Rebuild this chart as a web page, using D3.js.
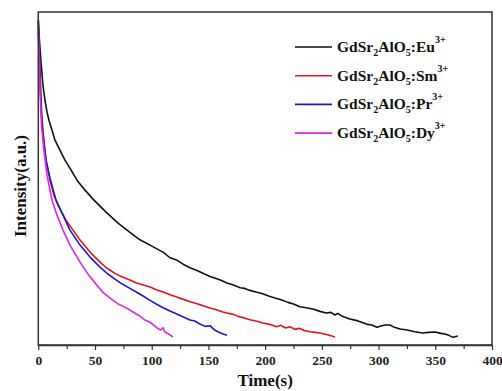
<!DOCTYPE html>
<html><head><meta charset="utf-8">
<script src="https://cdn.jsdelivr.net/npm/d3@7"></script>
<style>html,body{margin:0;padding:0;background:#fff;}svg{display:block;}
svg text{font-family:"Liberation Serif","Times New Roman","DejaVu Serif",serif;font-weight:bold;}</style>
</head><body>
<svg id="c" width="502" height="391"></svg>
<script>
// Data: [time (s), intensity (a.u.)]
const seriesNames = ["Eu", "Sm", "Pr", "Dy"];
const xTicks = [0, 50, 100, 150, 200, 250, 300, 350, 400];
const euData = [[0,975],[1,915],[2.4,849],[4.1,780],[5.9,735],[7.7,699],[9.4,675],[12.1,645],[14.7,615],[19.1,585],[23.5,555],[27.9,531],[34.1,495],[41.2,465],[49.1,435],[58.8,402],[70.3,366],[80.8,338],[89.6,316],[98.5,300],[105,288],[110,279],[116.1,262],[122,255],[128,242],[133.7,232],[140,224],[146,214],[151.4,206],[158,198],[162,193],[166.3,186],[172,180],[178,172],[182,170],[186.6,164],[192,159],[198,154],[203,147],[208.6,141],[214,136],[220,128],[225,123],[230.7,115],[236,112],[242,108],[248.3,101],[254,96],[258,98],[261.5,90],[264,95],[268,86],[274.7,78],[280,74],[285,68],[290,62],[294,60],[298.6,53],[302,57],[306,60],[310,60],[314,53],[319,48],[325,45],[332,40],[339,36],[344,38],[349.6,39],[355,35],[358.4,33],[362,29],[365.5,23],[369.9,27]];
const smData = [[0,960],[1.5,825],[2.8,705],[4.1,645],[6.8,555],[10.3,495],[13.8,450],[17.4,420],[24.4,375],[30.6,345],[36.8,315],[45.6,279],[54.4,249],[60,232],[67.6,215],[74,204],[80.8,195],[86,187],[92,181],[98.5,174],[104,166],[110,159],[116.1,151],[122,144],[128,137],[133.7,130],[140,124],[146,117],[151.4,111],[157,106],[162,100],[166.3,96],[172,92],[176,86],[181,82],[186.6,76],[192,72],[198,66],[204,62],[210,55],[214,59],[218,51],[222,55],[226,47],[230,50],[234,44],[239.5,40],[244,38],[248.3,36],[252,33],[256,30],[261.5,24]];
const prData = [[0,975],[1.5,795],[2.8,690],[4.1,630],[6.8,555],[10.3,501],[15.6,435],[21.8,390],[27.9,345],[36.8,300],[45.6,264],[54.4,234],[61,214],[67.6,198],[74,183],[80.8,170],[86,160],[92,148],[98.5,134],[104,123],[110,112],[116.1,102],[122,93],[128,84],[133.7,75],[138,72],[142,64],[147,56],[151.4,58],[155,46],[160.1,37],[163,33],[166.3,29]];
const dyData = [[0,950],[1.5,765],[2.8,660],[5,585],[7.7,510],[12.1,435],[16.5,390],[21.8,345],[27.9,300],[36.8,249],[44,212],[51.5,180],[57,158],[63.2,141],[70,124],[75,116],[80.8,105],[86,94],[90,86],[94,75],[98,69],[101,62],[104.6,51],[108,45],[110,52],[111.6,39],[115,33],[118.7,24]];
const seriesData = [euData, smData, prData, dyData];
const seriesColors = ["#111111", "#e3141b", "#1a1ac8", "#e424e4"];

const svg = d3.select("#c");
const L = 38.3, R = 492, T = 12, B = 345;
const x = d3.scaleLinear().domain([0, 400]).range([L, R]);
const y = d3.scaleLinear().domain([0, 1000]).range([B, T]);

// curves
const line = d3.line().x(d => x(d[0])).y(d => y(d[1]));
seriesData.forEach((d, i) => {
  svg.append("path").datum(d).attr("d", line)
    .attr("fill", "none").attr("stroke", seriesColors[i])
    .attr("stroke-width", 1.6).attr("stroke-linejoin", "round");
});

// frame
svg.append("rect").attr("x", L).attr("y", T).attr("width", R - L).attr("height", B - T)
  .attr("fill", "none").attr("stroke", "#333").attr("stroke-width", 1.5);

// bottom axis
const ax = svg.append("g").attr("transform", `translate(0,${B})`)
  .call(d3.axisBottom(x).tickValues(xTicks).tickSize(5).tickSizeOuter(0).tickPadding(5).tickFormat(d3.format("d")));
ax.select(".domain").attr("stroke", "#333").attr("stroke-width", 1.5);
ax.selectAll(".tick line").attr("stroke", "#333").attr("stroke-width", 1.2);
ax.selectAll("text").attr("font-size", 13.5).attr("fill", "#222");
const minor = svg.append("g").attr("transform", `translate(0,${B})`)
  .call(d3.axisBottom(x).tickValues(d3.range(25, 400, 50)).tickSize(4).tickFormat(""));
minor.select(".domain").remove();
minor.selectAll(".tick line").attr("stroke", "#333").attr("stroke-width", 1.2);
svg.selectAll("g").attr("font-family", null);

// axis titles
svg.append("text").attr("x", (L + R) / 2).attr("y", 386).attr("text-anchor", "middle")
  .attr("font-size", 17).attr("fill", "#111").text("Time(s)");
svg.append("text").attr("transform", `translate(26,186) rotate(-90)`).attr("text-anchor", "middle")
  .attr("font-size", 17).attr("fill", "#111").text("Intensity(a.u.)");

// legend
const lg = svg.append("g").attr("fill", "#111");
seriesNames.forEach((n, i) => {
  const yy = 47 + i * 28.7;
  lg.append("line").attr("x1", 295).attr("x2", 332).attr("y1", yy).attr("y2", yy)
    .attr("stroke", seriesColors[i]).attr("stroke-width", 1.6);
  const t = lg.append("text").attr("x", 337).attr("y", yy + 5).attr("font-size", 15.5);
  t.append("tspan").text("GdSr");
  t.append("tspan").attr("font-size", 10).attr("dy", 4).text("2");
  t.append("tspan").attr("dy", -4).text("AlO");
  t.append("tspan").attr("font-size", 10).attr("dy", 4).text("5");
  t.append("tspan").attr("dy", -4).text(":" + n);
  t.append("tspan").attr("font-size", 10).attr("dy", -9).text("3+");
});
</script>
</body></html>
